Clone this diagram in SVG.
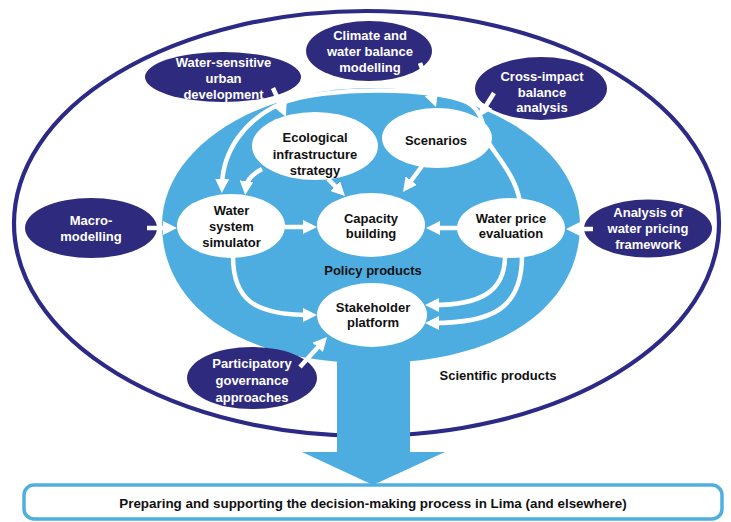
<svg xmlns="http://www.w3.org/2000/svg" width="731" height="522" viewBox="0 0 731 522">
<defs>
<marker id="ah" markerUnits="userSpaceOnUse" markerWidth="14" markerHeight="14" viewBox="0 0 14 14" refX="6" refY="7" orient="auto">
<path d="M0,0 L14,7 L0,14 z" fill="#ffffff"/>
</marker>
<style>
.navy{fill:#2e2a7e}
.wnode{fill:#ffffff}
.wt{font-family:"Liberation Sans",Arial,sans-serif;font-weight:bold;font-size:13px;fill:#ffffff;text-anchor:middle}
.bt{font-family:"Liberation Sans",Arial,sans-serif;font-weight:bold;font-size:13px;fill:#111111;text-anchor:middle}
.con{fill:none;stroke:#ffffff;stroke-width:4.5;marker-end:url(#ah)}
</style>
</defs>
<rect width="731" height="522" fill="#ffffff"/>
<g id="scientific-boundary">
<ellipse cx="366.5" cy="223.5" rx="352.5" ry="212.5" fill="none" stroke="#2c2a86" stroke-width="4.2"/>
</g>
<g id="decision-box">
<rect x="24" y="485" width="698" height="34" rx="10" fill="#ffffff" stroke="#4fb0e0" stroke-width="3.5"/>
<text class="bt" x="373" y="507.5" style="font-size:13.4px">Preparing and supporting the decision-making process in Lima (and elsewhere)</text>
</g>
<g id="policy-area">
<path d="M162,225 C162,149 256,88 371,88 C486,88 580,149 580,225 C580,300 510,363 371,363 C232,363 162,300 162,225 Z" fill="#4dade0"/>
<rect x="337" y="340" width="73" height="113" fill="#4dade0"/>
<polygon points="302,452 445,452 373,485" fill="#4dade0"/>
</g>
<g id="wsud"><ellipse class="navy" cx="223" cy="77" rx="78" ry="25"/>
<text class="wt" x="223.5" y="66.5">Water-sensitive</text><text class="wt" x="223.5" y="82.5">urban</text><text class="wt" x="223.5" y="98.5">development</text></g>
<g id="climate"><ellipse class="navy" cx="369" cy="51" rx="63" ry="30"/>
<text class="wt" x="370" y="39.5">Climate and</text><text class="wt" x="370" y="55.5">water balance</text><text class="wt" x="370" y="71.5">modelling</text></g>
<g id="cross-impact"><ellipse class="navy" cx="541" cy="88.5" rx="66" ry="31.5"/>
<text class="wt" x="542" y="80.5">Cross-impact</text><text class="wt" x="542" y="96.5">balance</text><text class="wt" x="542" y="111.5">analysis</text></g>
<g id="macro"><ellipse class="navy" cx="91" cy="228" rx="66" ry="30"/>
<text class="wt" x="91" y="224.5">Macro-</text><text class="wt" x="91" y="240.5">modelling</text></g>
<g id="pricing-framework"><ellipse class="navy" cx="648" cy="228.5" rx="64" ry="29"/>
<text class="wt" x="648" y="216.5">Analysis of</text><text class="wt" x="648" y="232.5">water pricing</text><text class="wt" x="648" y="248.5">framework</text></g>
<g id="participatory"><ellipse class="navy" cx="252" cy="378" rx="65" ry="31"/>
<text class="wt" x="252" y="367.5">Participatory</text><text class="wt" x="252" y="384.5">governance</text><text class="wt" x="252" y="401.5">approaches</text></g>
<g id="connectors">
<path class="con" d="M520,202 C516,178 500,160 490,145 C482,130 485,115 470,104 C440,86 320,86 280,104 C245,120 223,150 222,185"/>
<path class="con" d="M273,88 L282.7,109.7"/>
<path class="con" d="M420,63 L433.3,99.5"/>
<path class="con" d="M494,93 L483.2,110.2"/>
<path class="con" d="M147,228 L169,228"/>
<path class="con" d="M593,229 L574,229"/>
<path class="con" d="M285,227 L309,227"/>
<path class="con" d="M457,228 L434,228"/>
<path class="con" d="M422,166 L407.7,185.5"/>
<path class="con" d="M328,179 L339.3,190.3"/>
<path class="con" d="M262,169 Q247,177 246,187"/>
<path class="con" d="M233,256 C233,300 255,315 309,315"/>
<path class="con" d="M505,256 C505,292 480,305 433,305"/>
<path class="con" d="M522,256 C522,310 490,323 433,323"/>
<path class="con" d="M300,367 L321.7,342.9"/>
</g>
<g id="ecological"><ellipse class="wnode" cx="315" cy="146" rx="63" ry="34"/>
<text class="bt" x="315" y="141.5">Ecological</text><text class="bt" x="315" y="158.5">infrastructure</text><text class="bt" x="315" y="174.5">strategy</text></g>
<g id="scenarios"><ellipse class="wnode" cx="437" cy="138" rx="55" ry="30"/>
<text class="bt" x="436" y="144.5">Scenarios</text></g>
<g id="water-system"><ellipse class="wnode" cx="231" cy="226" rx="54" ry="32"/>
<text class="bt" x="231.5" y="214.5">Water</text><text class="bt" x="231.5" y="230.5">system</text><text class="bt" x="231.5" y="246.5">simulator</text></g>
<g id="capacity"><ellipse class="wnode" cx="371" cy="225" rx="54" ry="32"/>
<text class="bt" x="371" y="222.5">Capacity</text><text class="bt" x="371" y="238">building</text></g>
<g id="water-price"><ellipse class="wnode" cx="511" cy="228" rx="54" ry="30"/>
<text class="bt" x="511" y="222.5">Water price</text><text class="bt" x="511" y="238">evaluation</text></g>
<g id="stakeholder"><ellipse class="wnode" cx="372" cy="315" rx="55" ry="32"/>
<text class="bt" x="373" y="311.5">Stakeholder</text><text class="bt" x="373" y="326.5">platform</text></g>
<g id="labels">
<text class="bt" x="373" y="274.5">Policy products</text>
<text class="bt" x="498" y="379.5">Scientific products</text>
</g>
</svg>
